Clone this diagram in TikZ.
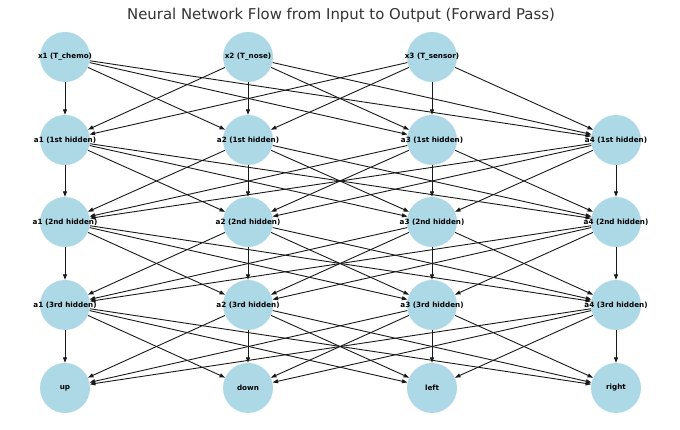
\documentclass[tikz,border=0pt]{standalone}
\usepackage{fontspec}
\setmainfont{DejaVu Sans}
\usetikzlibrary{arrows.meta,backgrounds}
\definecolor{nodeblue}{HTML}{ADD8E6}
\begin{document}
\begin{tikzpicture}[x=1pt,y=1pt,
  neuron/.style={circle,fill=nodeblue,minimum size=50pt,inner sep=0pt},
  lbl/.style={font=\fontsize{7.2}{8}\selectfont\bfseries,text=black},
  conn/.style={-{Triangle[length=5.5pt,width=4pt]},line width=0.9pt,black!90},
  ]
\useasboundingbox (0,0) rectangle (680,430);
\node[font=\fontsize{14.9}{17}\selectfont,text=black!80] (title) at (341,415) {Neural Network Flow from Input to Output (Forward Pass)};
% input layer
\foreach \n/\x/\t in {1/65/x1 (T\_chemo),2/248/x2 (T\_nose),3/432/x3 (T\_sensor)}
  \node[neuron,label={[lbl]center:\t}] (i\n) at (\x,373) {};
% hidden layers
\foreach \l/\y/\o in {1/290/1st,2/208/2nd,3/125/3rd}
  \foreach \n/\x in {1/65,2/248,3/432,4/616}
    \node[neuron,label={[lbl]center:a\n\ (\o\ hidden)}] (h\l\n) at (\x,\y) {};
% output layer
\foreach \n/\x/\t in {1/65/up,2/248/down,3/432/left,4/616/right}
  \node[neuron,label={[lbl]center:\t}] (o\n) at (\x,42) {};
% connections
\begin{scope}[on background layer]
\foreach \i in {1,2,3}
  \foreach \j in {1,2,3,4}
    \draw[conn] (i\i) -- (h1\j);
\foreach \i in {1,2,3,4}
  \foreach \j in {1,2,3,4}
    {\draw[conn] (h1\i) -- (h2\j);
     \draw[conn] (h2\i) -- (h3\j);
     \draw[conn] (h3\i) -- (o\j);}
\end{scope}
\end{tikzpicture}
\end{document}
